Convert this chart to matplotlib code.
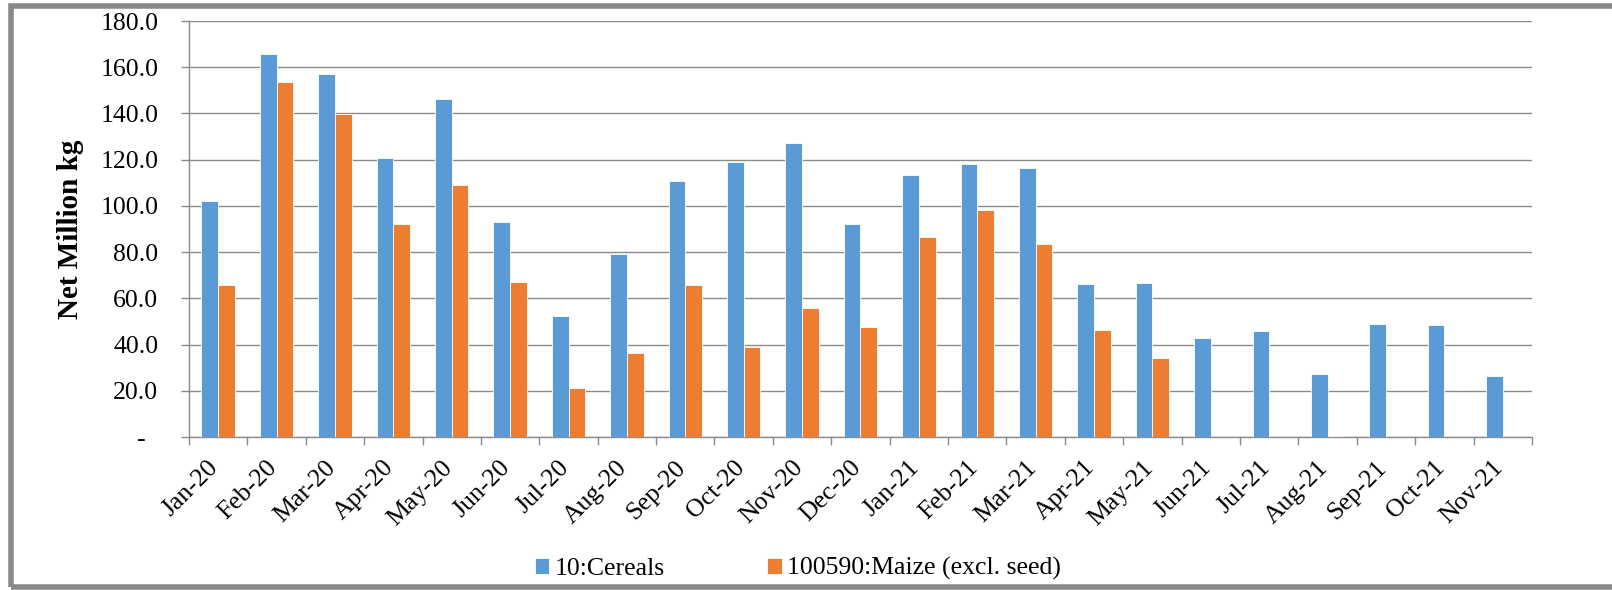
import numpy as np
import matplotlib.pyplot as plt
from matplotlib.patches import Rectangle
from matplotlib.transforms import ScaledTranslation

months = ["Jan-20", "Feb-20", "Mar-20", "Apr-20", "May-20", "Jun-20", "Jul-20",
          "Aug-20", "Sep-20", "Oct-20", "Nov-20", "Dec-20", "Jan-21", "Feb-21",
          "Mar-21", "Apr-21", "May-21", "Jun-21", "Jul-21", "Aug-21", "Sep-21",
          "Oct-21", "Nov-21"]
cereals = [102.2, 165.8, 157.0, 120.8, 146.3, 93.2, 52.2, 79.4, 110.8, 119.2,
           127.1, 92.2, 113.4, 118.2, 116.6, 66.4, 66.7, 42.9, 46.0, 27.3,
           48.9, 48.3, 26.3]
maize = [65.8, 153.4, 139.8, 92.2, 109.2, 67.1, 21.2, 36.4, 65.9, 39.1,
         55.7, 47.6, 86.4, 98.3, 83.7, 46.3, 34.2, 0.2, 0.2, 0.6,
         0.0, 0.0, 0.2]
y_ticks = [0, 20, 40, 60, 80, 100, 120, 140, 160, 180]
y_labels = ["-  ", "20.0", "40.0", "60.0", "80.0", "100.0", "120.0", "140.0", "160.0", "180.0"]
series_names = ["10:Cereals", "100590:Maize (excl. seed)"]

plt.rcParams["font.family"] = ["Liberation Serif", "DejaVu Serif"]
grid_grey = "#8c8c8c"

fig = plt.figure(figsize=(16.12, 5.9), dpi=100)
ax = fig.add_axes([0.1172, 0.2593, 0.8332, 0.7051])

# Bars
x = np.arange(len(months))
w = 0.2857
ax.bar(x - w / 2, cereals, width=w, color="#5B9BD5", edgecolor="white", linewidth=0.6,
       label=series_names[0], zorder=3)
ax.bar(x + w / 2, maize, width=w, color="#ED7D31", edgecolor="white", linewidth=0.6,
       label=series_names[1], zorder=3)

# Axes
ax.set_xlim(-0.5, len(months) - 0.5)
ax.set_ylim(0, 180)
ax.set_yticks(y_ticks)
ax.set_yticklabels(y_labels, fontsize=18.5)
ax.yaxis.grid(True, color=grid_grey, linewidth=1.0, zorder=0)
ax.tick_params(axis="y", length=6, width=1, color=grid_grey, pad=16)

ax.set_xticks(x)
ax.set_xticklabels(months, rotation=45, ha="right", va="top", fontsize=18.5)
ax.set_xticks(np.arange(-0.5, len(months)), minor=True)
ax.tick_params(axis="x", which="major", length=0, pad=14)
ax.tick_params(axis="x", which="minor", length=6, width=1, color=grid_grey)
# labels sit a little right of the category centre
shift = ScaledTranslation(5 / 100, 0, fig.dpi_scale_trans)
for lbl in ax.get_xticklabels():
    lbl.set_transform(lbl.get_transform() + shift)

for side in ["top", "right"]:
    ax.spines[side].set_visible(False)
for side in ["left", "bottom"]:
    ax.spines[side].set_color(grid_grey)
    ax.spines[side].set_linewidth(1.0)

ax.set_ylabel("Net Million kg", fontsize=21, fontweight="bold", labelpad=12)

fig.legend(loc="center", bbox_to_anchor=(0.495, 0.036), ncol=2, frameon=False,
           fontsize=18.5, handlelength=0.55, handleheight=0.55, handletextpad=0.23,
           columnspacing=4.0)

# Grey frame around the chart (cut off on the right)
fig.patches.append(Rectangle((11 / 1612, 3 / 590), 1.2, 1 - 9 / 590, transform=fig.transFigure,
                             fill=False, edgecolor="#898989", linewidth=4, clip_on=False))

plt.savefig("out.png", dpi=100)
plt.close()
